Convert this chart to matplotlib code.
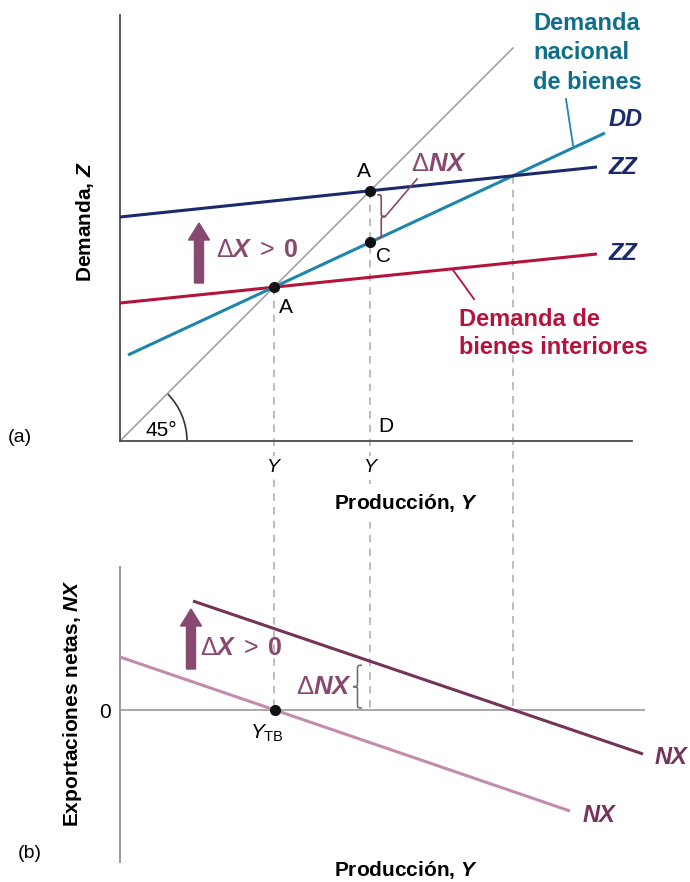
import matplotlib
matplotlib.use('Agg')
import matplotlib.pyplot as plt
import numpy as np
from matplotlib.patches import Arc, FancyArrow, PathPatch
from matplotlib.path import Path

plt.rcParams['font.family'] = ['Liberation Sans', 'DejaVu Sans']
plt.rcParams['mathtext.fontset'] = 'custom'
plt.rcParams['mathtext.rm'] = 'Liberation Sans'
plt.rcParams['mathtext.it'] = 'Liberation Sans:italic'
plt.rcParams['mathtext.bf'] = 'Liberation Sans:bold'
plt.rcParams['mathtext.bfit'] = 'Liberation Sans:italic:bold'

# ---------------- data (diagram units) ----------------
line45_x = [0, 393]
line45_y = [0, 393]
zz_low_x = [0, 477]
zz_low_y = [138, 187]
zz_high_x = [0, 477]
zz_high_y = [224, 274]
dd_x = [8, 485]
dd_y = [86, 308]
nx_low_x = [0, 450]
nx_low_y = [53, -101]
nx_high_x = [73, 523]
nx_high_y = [109, -44]

NAVY = '#1b2a6b'
TEAL = '#1f86ab'
TEAL_T = '#0f6e8c'
RED = '#b5123c'
PLUM = '#87496f'
NX_DARK = '#733459'
NX_LIGHT = '#c38caf'
GRAY = '#9a9a9a'
DASH = '#ababab'

W, H = 690, 882
fig = plt.figure(figsize=(W / 100, H / 100), dpi=100)


def px_axes(l, t, r, b):
    return fig.add_axes([l / W, 1 - b / H, (r - l) / W, (b - t) / H])


def line_coef(xs, ys):
    m = (ys[1] - ys[0]) / (xs[1] - xs[0])
    return m, ys[0] - m * xs[0]


def intersect(l1, l2):
    m1, b1 = line_coef(*l1)
    m2, b2 = line_coef(*l2)
    x = (b2 - b1) / (m1 - m2)
    return x, m1 * x + b1


def brace(ax, x, y0, y1, w, color, lw=1.2):
    ym = (y0 + y1) / 2
    d = 0.12 * (y1 - y0)
    h = w / 2
    verts = [(x, y1), (x + h, y1), (x + h, y1), (x + h, y1 - d),
             (x + h, ym + d),
             (x + h, ym), (x + h, ym), (x + w, ym),
             (x + h, ym), (x + h, ym), (x + h, ym - d),
             (x + h, y0 + d),
             (x + h, y0), (x + h, y0), (x, y0)]
    codes = [Path.MOVETO, Path.CURVE4, Path.CURVE4, Path.CURVE4,
             Path.LINETO,
             Path.CURVE4, Path.CURVE4, Path.CURVE4,
             Path.CURVE4, Path.CURVE4, Path.CURVE4,
             Path.LINETO,
             Path.CURVE4, Path.CURVE4, Path.CURVE4]
    ax.add_patch(PathPatch(Path(verts, codes), fill=False, edgecolor=color,
                           lw=lw, clip_on=False, zorder=4))


DX_LABEL = r'$\Delta\mathbfit{X}\;>\;\mathbf{0}$'
DNX_LABEL = r'$\Delta\mathbfit{NX}$'
PROD_LABEL = r'Producción, $\mathbfit{Y}$'

# ---------------- top panel (a) ----------------
ax = px_axes(120, 15, 632, 441)
ax.set_xlim(0, 512)
ax.set_ylim(0, 426)
ax.set_facecolor('none')
for s in ['top', 'right']:
    ax.spines[s].set_visible(False)
for s in ['left', 'bottom']:
    ax.spines[s].set_color('#4a4a4a')
    ax.spines[s].set_linewidth(1.3)
ax.set_xticks([])
ax.set_yticks([])

A1 = intersect((zz_low_x, zz_low_y), (line45_x, line45_y))
A2 = intersect((zz_high_x, zz_high_y), (line45_x, line45_y))
m_dd, b_dd = line_coef(dd_x, dd_y)
C = (A2[0], m_dd * A2[0] + b_dd)
E = intersect((zz_high_x, zz_high_y), (dd_x, dd_y))

ax.plot(line45_x, line45_y, color=GRAY, lw=1.1, zorder=2)
ax.plot(zz_low_x, zz_low_y, color=RED, lw=2.2, zorder=3, solid_capstyle='butt')
ax.plot(dd_x, dd_y, color=TEAL, lw=2.2, zorder=3, solid_capstyle='butt')
ax.plot(zz_high_x, zz_high_y, color=NAVY, lw=2.2, zorder=3, solid_capstyle='butt')

y_bottom_zero = -269  # bottom panel zero line in top-panel units
for (xv, yv) in [A1, A2, E]:
    ax.plot([xv, xv], [yv, y_bottom_zero], color=DASH, lw=1.1,
            ls=(0, (5, 4)), zorder=1, clip_on=False)

for (xv, yv) in [A1, A2, C]:
    ax.plot(xv, yv, 'o', color='#111111', ms=7, zorder=6)

ax.add_patch(Arc((0, 0), 134, 134, theta1=0, theta2=45, color='#333333', lw=1.2))
ax.text(41, 11, '45°', fontsize=15, ha='center', va='center')
ax.text(A2[0] + 8, 14, 'D', fontsize=15, ha='left', va='center')

ax.text(A1[0] + 12, A1[1] - 20, 'A', fontsize=15, ha='center', va='center')
ax.text(A2[0] - 6, A2[1] + 19, 'A', fontsize=15, ha='center', va='center')
ax.text(C[0] + 13, C[1] - 14, 'C', fontsize=15, ha='center', va='center')

brace(ax, A2[0] + 7, C[1] + 4, A2[1] - 4, 8, PLUM)
ax.plot([A2[0] + 15, 297], [(C[1] + A2[1]) / 2, 262], color=PLUM, lw=1.2, zorder=4)
ax.text(291, 277, DNX_LABEL, fontsize=18.5, color=PLUM, ha='left', va='center')

ax.add_patch(FancyArrow(79, 158, 0, 60, width=9, head_width=21, head_length=17,
                        length_includes_head=True, color=PLUM, zorder=4))
ax.text(96, 191, DX_LABEL, fontsize=18, color=PLUM, ha='left', va='center')

for (tx, ty, s) in [(489, 321, 'DD'), (489, 274, 'ZZ'), (489, 188, 'ZZ')]:
    ax.text(tx, ty, s, fontsize=17, fontweight='bold', fontstyle='italic',
            color=NAVY, ha='left', va='center', clip_on=False)

ax.text(413, 429, 'Demanda\nnacional\nde bienes', fontsize=17, fontweight='bold',
        color=TEAL_T, ha='left', va='top', linespacing=1.35, clip_on=False)
ax.plot([446, 453], [342, 296], color=TEAL, lw=1.3, zorder=4)

ax.text(339, 133, 'Demanda de\nbienes interiores', fontsize=17, fontweight='bold',
        color=RED, ha='left', va='top', linespacing=1.3)
ax.plot([333, 354], [171, 142], color=RED, lw=1.3, zorder=4)

wb = dict(facecolor='white', edgecolor='none', pad=1.5)
ax.text(A1[0], -26, 'Y', fontsize=14, fontstyle='italic', ha='center', va='center',
        bbox=wb, zorder=5, clip_on=False)
ax.text(A2[0], -26, 'Y', fontsize=14, fontstyle='italic', ha='center', va='center',
        bbox=wb, zorder=5, clip_on=False)
ax.text(286, -62, PROD_LABEL, fontsize=15, fontweight='bold',
        ha='center', va='center', bbox=dict(facecolor='white', edgecolor='none', pad=6),
        zorder=5, clip_on=False)
ax.text(-35, 219, r'Demanda, $\mathbfit{Z}$', fontsize=15, fontweight='bold',
        rotation=90, ha='center', va='center', clip_on=False)
ax.text(-112, 4, '(a)', fontsize=14, ha='left', va='center', clip_on=False)

# ---------------- bottom panel (b) ----------------
bx = px_axes(120, 567, 645, 862)
bx.set_xlim(0, 525)
bx.set_ylim(-152, 143)
bx.set_facecolor('none')
for s in ['top', 'right', 'bottom']:
    bx.spines[s].set_visible(False)
bx.spines['left'].set_color('#9a9a9a')
bx.spines['left'].set_linewidth(1.4)
bx.set_xticks([])
bx.set_yticks([])

bx.plot([0, 525], [0, 0], color='#9a9a9a', lw=1.2, zorder=2)
bx.plot(nx_low_x, nx_low_y, color=NX_LIGHT, lw=2.2, zorder=3, solid_capstyle='butt')
bx.plot(nx_high_x, nx_high_y, color=NX_DARK, lw=2.2, zorder=3, solid_capstyle='butt')

m_l, b_l = line_coef(nx_low_x, nx_low_y)
ytb = -b_l / m_l
bx.plot(ytb, 0, 'o', color='#111111', ms=7, zorder=6)
bx.text(ytb - 8, -23, r'$\mathit{Y}_{\mathrm{TB}}$', fontsize=15, ha='center', va='center')

m_h, b_h = line_coef(nx_high_x, nx_high_y)
ynx = m_h * A2[0] + b_h
brace(bx, 242, 2, ynx - 4, -9, '#6a6a6a', lw=1.1)
bx.text(232, 23, DNX_LABEL, fontsize=18.5, color=PLUM, ha='right', va='center')

bx.add_patch(FancyArrow(71, 41, 0, 60, width=9, head_width=21, head_length=17,
                        length_includes_head=True, color=PLUM, zorder=4))
bx.text(80, 62, DX_LABEL, fontsize=18, color=PLUM, ha='left', va='center')

bx.text(535, -48, 'NX', fontsize=17, fontweight='bold', fontstyle='italic',
        color=NX_DARK, ha='left', va='center', clip_on=False)
bx.text(463, -105, 'NX', fontsize=17, fontweight='bold', fontstyle='italic',
        color=NX_DARK, ha='left', va='center', clip_on=False)

bx.text(-15, -2, '0', fontsize=15, ha='center', va='center', clip_on=False)
bx.text(-47, 7, r'Exportaciones netas, $\mathbfit{NX}$', fontsize=15, fontweight='bold',
        rotation=90, ha='center', va='center', clip_on=False)
bx.text(-102, -143, '(b)', fontsize=14, ha='left', va='center', clip_on=False)
bx.text(286, -160, PROD_LABEL, fontsize=15, fontweight='bold',
        ha='center', va='center', clip_on=False)

fig.savefig('out.png', dpi=100)
